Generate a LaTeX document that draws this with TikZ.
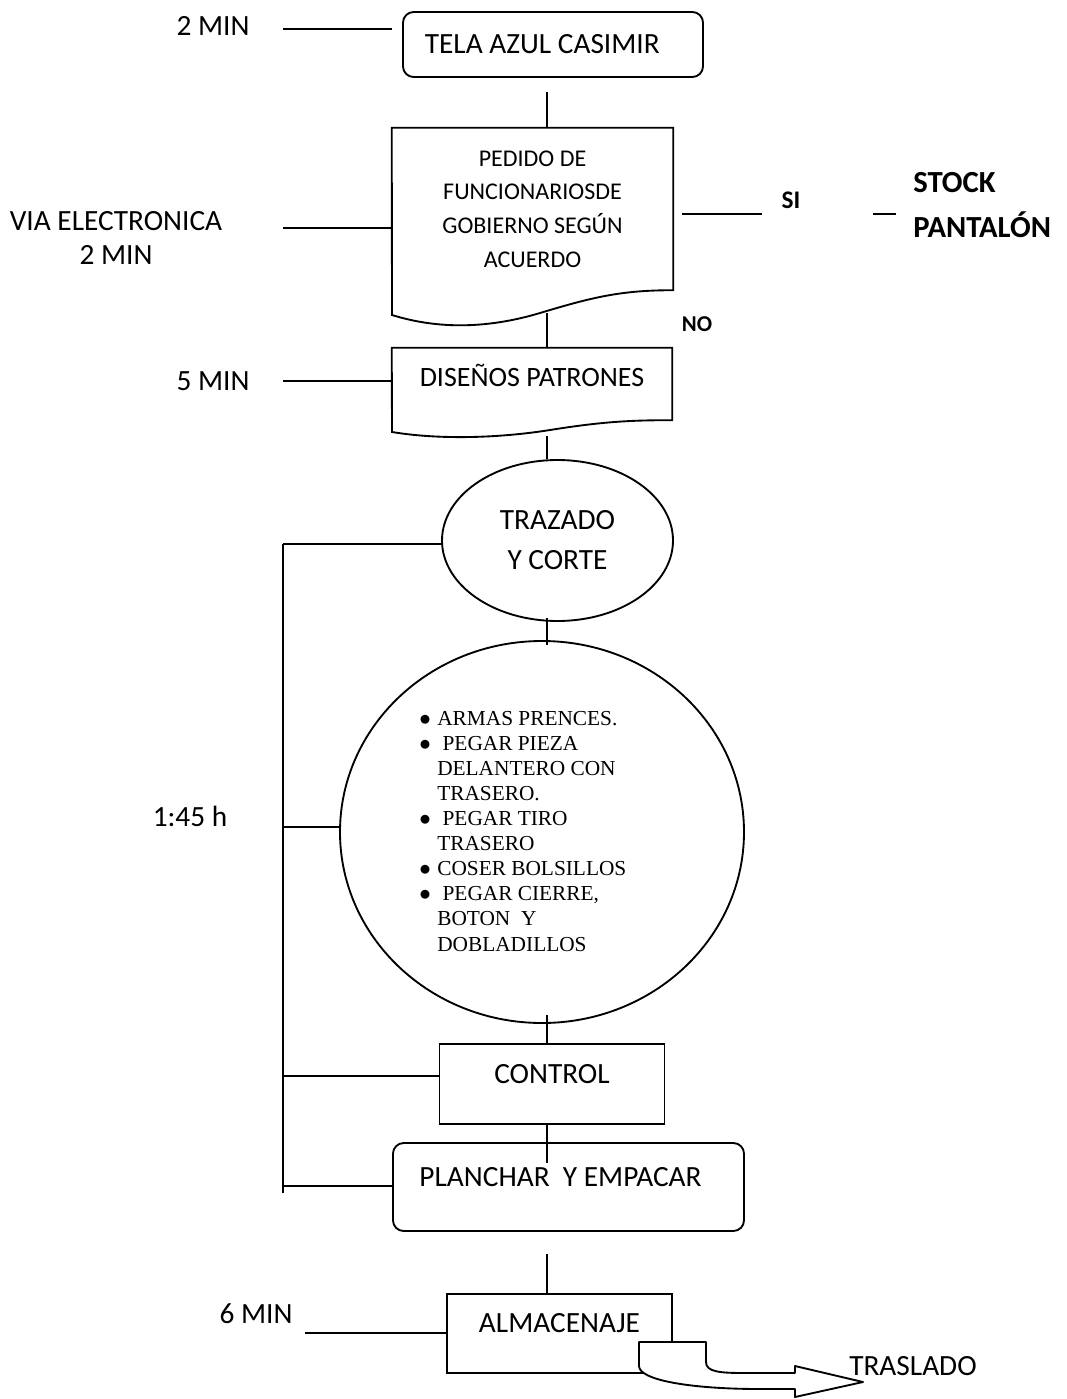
\documentclass[tikz,border=0pt]{standalone}
\usepackage{fontspec}
\setmainfont{Carlito}
\newfontfamily\timesfont{Liberation Serif}
\usepackage{tikz}
\usetikzlibrary{shapes.geometric}
\def\pxu{0.75pt}
\newcommand{\bitem}{\makebox[13.5pt][l]{$\bullet$}}
\newcommand{\bindent}{\hspace*{13.5pt}}
\tikzset{
  conn/.style={draw=black, line width=1.4pt},
  lab/.style={font=\fontsize{22pt}{26pt}\selectfont, inner sep=0pt},
  smalllab/.style={font=\fontsize{18pt}{25.3pt}\selectfont, inner sep=0pt, align=center},
  boldlab/.style={font=\bfseries\fontsize{19pt}{24pt}\selectfont, inner sep=0pt},
  biglab/.style={font=\bfseries\fontsize{23pt}{34pt}\selectfont, inner sep=0pt, align=left},
  boxtext/.style={text height=14pt, text depth=15.5pt},
  procbox/.style={lab, draw=black, line width=1.4pt},
  roundbox/.style={procbox, rounded corners=8pt},
  docbox/.style={inner sep=0pt},
  ovalbox/.style={ellipse, draw=black, line width=1.4pt, inner sep=0pt},
  listlab/.style={font=\timesfont\fontsize{16pt}{18.8pt}\selectfont, align=left, inner sep=0pt}
}
\begin{document}
\begin{tikzpicture}[x=\pxu, y=-\pxu]
  \useasboundingbox (0,0) rectangle (1067,1399);

  % main column
  \node[roundbox, minimum width=300*\pxu, minimum height=65*\pxu] (tela) at (553,44.5) {TELA AZUL CASIMIR\kern16pt};

  \node[docbox, smalllab, minimum width=281*\pxu, minimum height=162*\pxu] (pedido) at (532.5,209)
    {PEDIDO DE\\FUNCIONARIOSDE\\GOBIERNO SEGÚN\\ACUERDO};
  \draw[conn] (392,315) -- (pedido.north west) -- (pedido.north east) -- (pedido.south east)
    .. controls (620,290) and (590,298) .. (540,313) .. controls (490,328) and (440,330) .. cycle;

  \node[docbox, lab, font=\fontsize{21pt}{26pt}\selectfont, text height=14pt, text depth=11pt,
        minimum width=280*\pxu, minimum height=72*\pxu] (disenos) at (532,384) {DISEÑOS PATRONES};
  \draw[conn] (392,432) -- (disenos.north west) -- (disenos.north east) -- (disenos.south east)
    .. controls (630,420) and (600,422) .. (550,430) .. controls (500,438) and (440,440) .. cycle;

  \node[ovalbox, lab, align=center, font=\fontsize{22pt}{30pt}\selectfont,
        minimum width=231*\pxu, minimum height=161*\pxu] (trazado) at (557.5,540.5) {TRAZADO\\Y CORTE};

  \node[ovalbox, minimum width=404*\pxu, minimum height=382*\pxu] (ops) at (542,832) {};
  \node[listlab, anchor=north west] (opslist) at (419,711) {%
    \bitem ARMAS PRENCES.\\
    \bitem\ PEGAR PIEZA\\
    \bindent DELANTERO CON\\
    \bindent TRASERO.\\
    \bitem\ PEGAR TIRO\\
    \bindent TRASERO\\
    \bitem COSER BOLSILLOS\\
    \bitem\ PEGAR CIERRE,\\
    \bindent BOTON\ \ Y\\
    \bindent DOBLADILLOS};

  \node[procbox, boxtext, minimum width=225*\pxu, minimum height=80*\pxu] (control) at (552,1084) {CONTROL};
  \node[roundbox, boxtext, minimum width=351*\pxu, minimum height=88*\pxu] (planchar) at (568.5,1187)
    {PLANCHAR\ \ Y EMPACAR\kern12pt};
  \node[procbox, boxtext, minimum width=225*\pxu, minimum height=79*\pxu] (almacen) at (559.5,1333.5) {ALMACENAJE};

  % traslado arrow
  \draw[conn, fill=white, line join=round] (639,1342) -- (706,1342) -- (706,1362)
    .. controls (706,1372) and (720,1373) .. (745,1373) -- (795,1373) -- (795,1366)
    -- (863,1382) -- (795,1397) -- (795,1389) -- (760,1389)
    .. controls (690,1389) and (639,1380) .. (639,1366) -- cycle;
  \node[lab, anchor=west] (traslado) at (849,1366) {TRASLADO};

  % side labels
  \node[lab] (min2) at (213,26) {2 MIN};
  \node[lab, align=center] (via) at (116,238) {VIA ELECTRONICA\\2 MIN};
  \node[lab] (min5) at (213,381) {5 MIN};
  \node[lab] (hora) at (190,816) {1:45 h};
  \node[lab] (min6) at (256,1314) {6 MIN};
  \node[boldlab] (si) at (791,200) {SI};
  \node[font=\bfseries\fontsize{17pt}{20pt}\selectfont, inner sep=0pt] (no) at (697,324) {NO};
  \node[biglab, anchor=west] (stock) at (913,205) {STOCK\\PANTALÓN};

  % connectors
  \coordinate (spine) at (547,0);
  \coordinate (telaout) at (547,92);
  \coordinate (pedout) at (547,313);
  \coordinate (disout) at (547,436);
  \coordinate (trzout) at (547,618);
  \coordinate (opsin) at (547,645);
  \coordinate (opsout) at (547,1015);
  \coordinate (planin) at (547,1163);
  \coordinate (planout) at (547,1254);
  \draw[conn] (telaout) -- (spine |- pedido.north);
  \draw[conn] (pedout) -- (spine |- disenos.north);
  \draw[conn] (disout) -- (spine |- trazado.north);
  \draw[conn] (trzout) -- (opsin);
  \draw[conn] (opsout) -- (spine |- control.north);
  \draw[conn] (spine |- control.south) -- (planin);
  \draw[conn] (planout) -- (spine |- almacen.north);

  \coordinate (min2out) at (283,29);
  \coordinate (viaout) at (283,228);
  \coordinate (min5out) at (283,381);
  \coordinate (min6out) at (305,1333);
  \draw[conn] (min2out) -- (min2out -| pedido.west);
  \draw[conn] (viaout) -- (viaout -| pedido.west);
  \draw[conn] (min5out) -- (min5out -| disenos.west);
  \draw[conn] (min6out) -- (min6out -| almacen.west);

  \coordinate (sia) at (682,214);
  \coordinate (sib) at (762,214);
  \coordinate (stocka) at (873,214);
  \coordinate (stockb) at (896,214);
  \draw[conn] (sia) -- (sib);
  \draw[conn] (stocka) -- (stockb);

  % bus for the 1:45 h block
  \coordinate (bustop) at (283,544);
  \coordinate (busbot) at (283,1193);
  \coordinate (busops) at (283,827);
  \coordinate (busctl) at (283,1076);
  \coordinate (buspln) at (283,1186);
  \draw[conn] (bustop) -- (busbot);
  \draw[conn] (bustop) -- (bustop -| trazado.west);
  \draw[conn] (busops) -- (busops -| ops.west);
  \draw[conn] (busctl) -- (busctl -| control.west);
  \draw[conn] (buspln) -- (buspln -| planchar.west);
\end{tikzpicture}
\end{document}
